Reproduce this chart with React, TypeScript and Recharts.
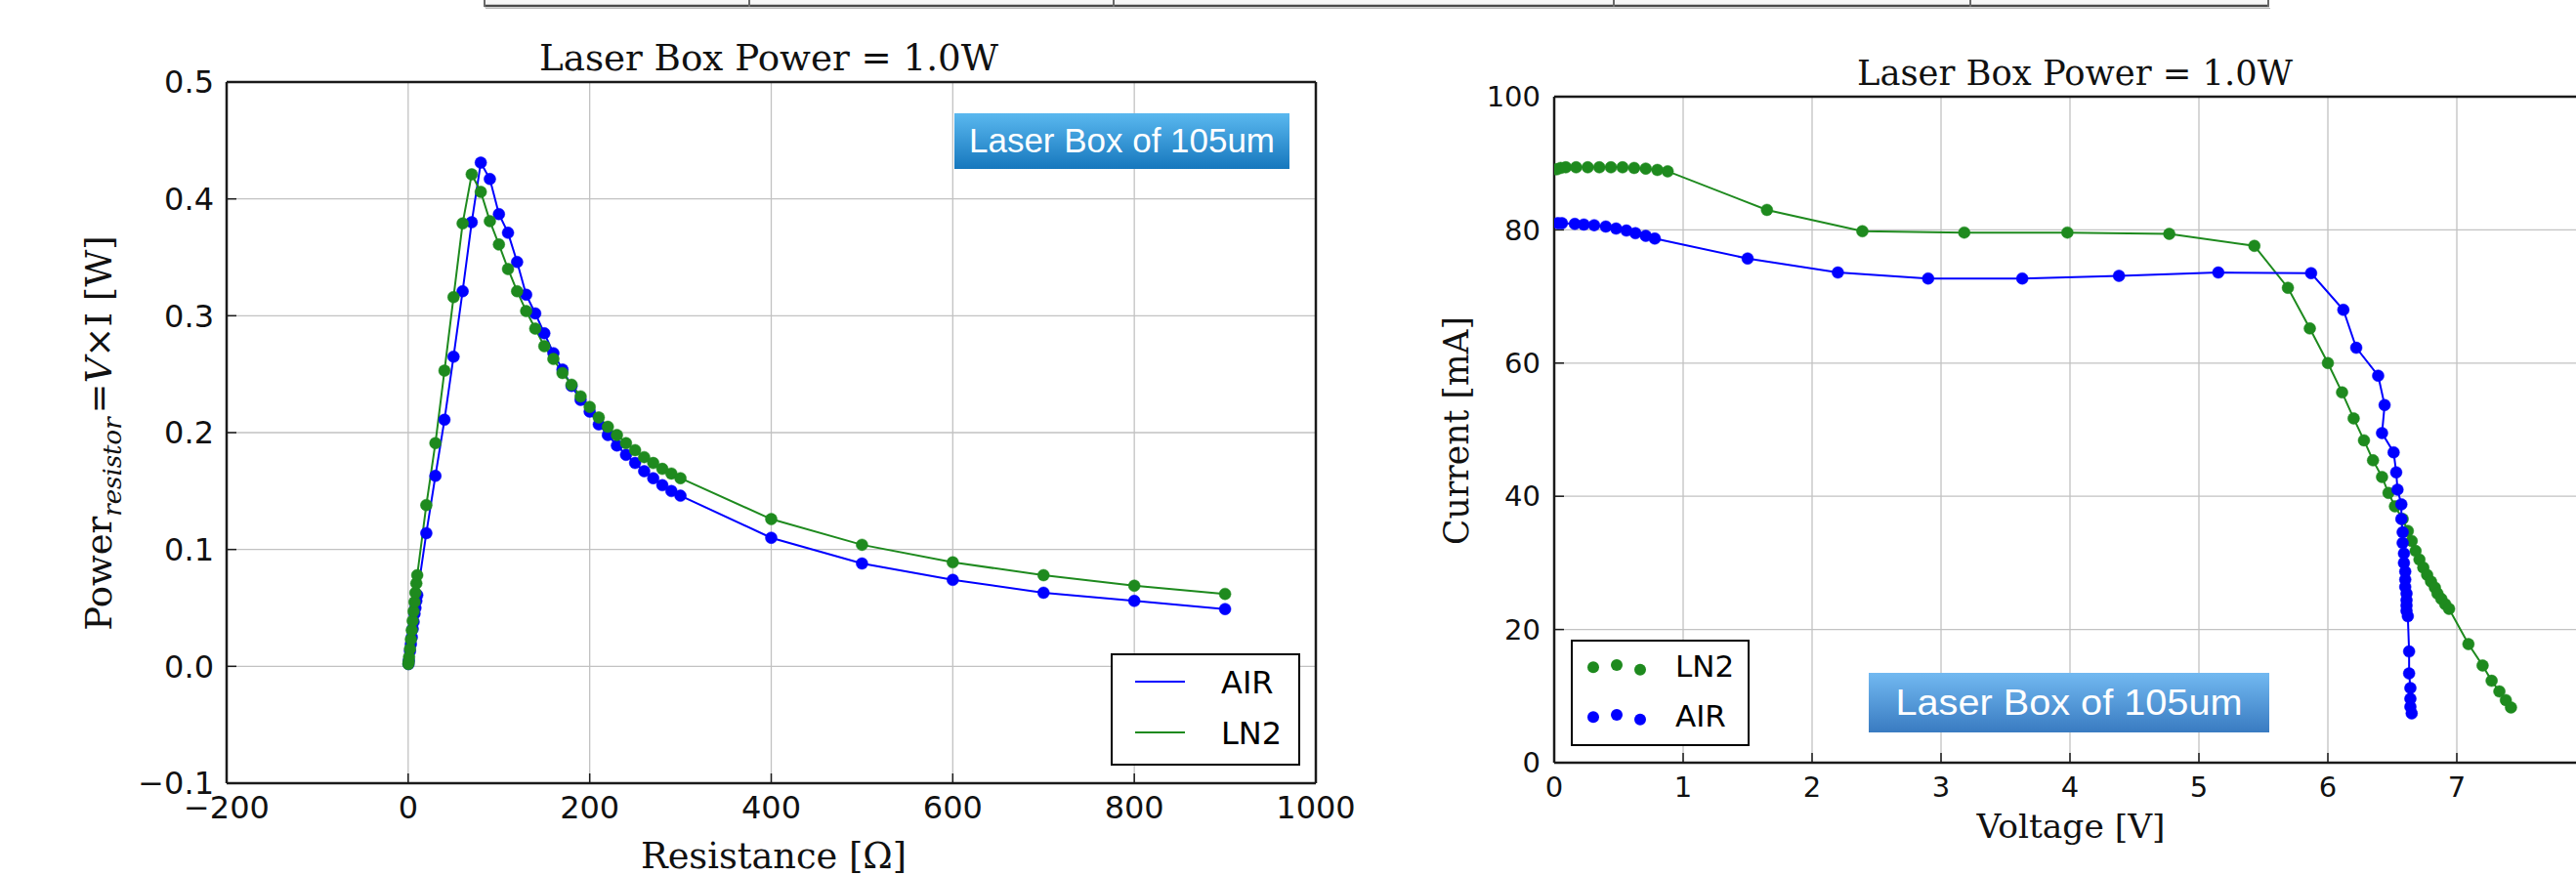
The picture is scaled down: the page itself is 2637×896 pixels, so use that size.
import React from 'react';
import { ComposedChart, Line, XAxis, YAxis, CartesianGrid, Legend } from 'recharts';

// ---------- data ----------
const airResistance = [0.4, 0.7, 2, 3, 4, 5, 6, 7, 8, 9, 10, 20, 30, 40, 50, 60, 70, 80, 90, 100, 110, 120, 130, 140, 150, 160, 170, 180, 190, 200, 210, 220, 230, 240, 250, 260, 270, 280, 290, 300, 400, 500, 600, 700, 800, 900];
const airPower = [0.002, 0.005, 0.013, 0.019, 0.025, 0.032, 0.038, 0.045, 0.05, 0.056, 0.061, 0.114, 0.163, 0.211, 0.265, 0.321, 0.38, 0.431, 0.417, 0.387, 0.371, 0.346, 0.318, 0.302, 0.285, 0.268, 0.254, 0.24, 0.228, 0.218, 0.207, 0.198, 0.189, 0.181, 0.174, 0.167, 0.161, 0.155, 0.15, 0.146, 0.11, 0.088, 0.074, 0.063, 0.056, 0.049];

const ln2Resistance = [0.2, 0.6, 1, 2, 3, 4, 5, 6, 7, 8, 9, 10, 20, 30, 40, 50, 60, 70, 80, 90, 100, 110, 120, 130, 140, 150, 160, 170, 180, 190, 200, 210, 220, 230, 240, 250, 260, 270, 280, 290, 300, 400, 500, 600, 700, 800, 900];
const ln2Power = [0.002, 0.004, 0.008, 0.015, 0.023, 0.031, 0.039, 0.047, 0.055, 0.063, 0.071, 0.078, 0.138, 0.191, 0.253, 0.316, 0.379, 0.421, 0.406, 0.381, 0.361, 0.34, 0.321, 0.304, 0.289, 0.274, 0.263, 0.251, 0.241, 0.231, 0.222, 0.213, 0.205, 0.198, 0.191, 0.185, 0.179, 0.174, 0.169, 0.165, 0.161, 0.126, 0.104, 0.089, 0.078, 0.069, 0.062];

const airVoltage = [0.03, 0.06, 0.16, 0.23, 0.31, 0.4, 0.48, 0.56, 0.63, 0.71, 0.78, 1.5, 2.2, 2.9, 3.63, 4.38, 5.15, 5.87, 6.12, 6.22, 6.39, 6.44, 6.42, 6.51, 6.53, 6.54, 6.57, 6.57, 6.58, 6.58, 6.59, 6.59, 6.6, 6.6, 6.6, 6.61, 6.61, 6.61, 6.61, 6.62, 6.63, 6.63, 6.64, 6.64, 6.64, 6.65];
const airCurrent = [81.0, 81.0, 80.9, 80.8, 80.7, 80.5, 80.2, 79.9, 79.5, 79.1, 78.7, 75.7, 73.6, 72.7, 72.7, 73.1, 73.6, 73.5, 68.0, 62.3, 58.1, 53.7, 49.5, 46.6, 43.6, 41.0, 38.8, 36.6, 34.6, 33.0, 31.4, 30.0, 28.7, 27.5, 26.4, 25.4, 24.4, 23.6, 22.8, 22.0, 16.7, 13.4, 11.2, 9.6, 8.4, 7.4];

const ln2Voltage = [0.02, 0.05, 0.09, 0.17, 0.26, 0.35, 0.44, 0.53, 0.62, 0.71, 0.8, 0.88, 1.65, 2.39, 3.18, 3.98, 4.77, 5.43, 5.69, 5.86, 6.0, 6.11, 6.2, 6.28, 6.35, 6.42, 6.47, 6.52, 6.58, 6.62, 6.65, 6.68, 6.71, 6.74, 6.77, 6.8, 6.83, 6.85, 6.88, 6.91, 6.94, 7.09, 7.2, 7.27, 7.33, 7.38, 7.42];
const ln2Current = [89.1, 89.3, 89.4, 89.4, 89.4, 89.4, 89.4, 89.4, 89.3, 89.2, 89.0, 88.8, 83.0, 79.8, 79.6, 79.6, 79.4, 77.6, 71.3, 65.2, 60.0, 55.6, 51.7, 48.4, 45.4, 42.9, 40.5, 38.5, 36.6, 34.8, 33.3, 31.8, 30.5, 29.3, 28.2, 27.2, 26.3, 25.4, 24.6, 23.8, 23.1, 17.8, 14.6, 12.3, 10.7, 9.4, 8.3];

const resistanceTicks = [-200, 0, 200, 400, 600, 800, 1000];
const powerTicks = [-0.1, 0, 0.1, 0.2, 0.3, 0.4, 0.5];
const voltageTicks = [0, 1, 2, 3, 4, 5, 6, 7, 8];
const currentTicks = [0, 20, 40, 60, 80, 100];

const chartTitle = 'Laser Box Power = 1.0W';
const badgeText = 'Laser Box of 105um';
const airName = 'AIR';
const ln2Name = 'LN2';
const leftLegendOrder = [airName, ln2Name];
const rightLegendOrder = [ln2Name, airName];
const tableDividers = [496, 767, 1140, 1652, 2017, 2322];

// ---------- helpers ----------
const toPoints = (xs: number[], ys: number[]) => xs.map((x, i) => ({ x, y: ys[i] }));
const airPR = toPoints(airResistance, airPower);
const ln2PR = toPoints(ln2Resistance, ln2Power);
const airIV = toPoints(airVoltage, airCurrent);
const ln2IV = toPoints(ln2Voltage, ln2Current);

const BLUE = '#0000ff';
const GREEN = '#1e8a1e';
const GRID = '#c2c2c2';
const FRAME = '#1a1a1a';
const DOT_R = 6;

const fmtInt = (v: number) => (v < 0 ? '\u2212' + Math.abs(v) : String(v));
const fmtOne = (v: number) => (v < 0 ? '\u2212' : '') + Math.abs(v).toFixed(1);
// the last voltage tick falls outside the visible picture, so its label is not drawn
const fmtVolt = (v: number) => (v >= 8 ? '' : String(v));

const axisLine = { stroke: FRAME, strokeWidth: 2.5 };
const tickLine = { stroke: FRAME, strokeWidth: 1.5 };

const ordered = (payload: any[], order: string[]) =>
  order.map((n) => payload.find((p: any) => p.value === n)).filter(Boolean);

const LeftLegend = (props: any) => {
  const payload = ordered(props.payload || [], leftLegendOrder);
  return (
    <svg width={194} height={115} style={{ display: 'block' }}>
      <rect x={1} y={1} width={192} height={113} fill="#fff" stroke="#000" strokeWidth={2} />
      {payload.map((p: any, i: number) => {
        const cy = 29 + i * 52;
        return (
          <g key={String(p.value)}>
            <line x1={25} x2={76} y1={cy} y2={cy} stroke={p.color} strokeWidth={2} />
            <text x={113} y={cy + 12} fontFamily="DejaVu Sans" fontSize={32} fill="#000">
              {p.value}
            </text>
          </g>
        );
      })}
    </svg>
  );
};

const RightLegend = (props: any) => {
  const payload = ordered(props.payload || [], rightLegendOrder);
  const dx = [23, 47, 71];
  const dy = [0, -2.3, 2.4];
  return (
    <svg width={183} height={109} style={{ display: 'block' }}>
      <rect x={1} y={1} width={181} height={107} fill="#fff" stroke="#000" strokeWidth={2} />
      {payload.map((p: any, i: number) => {
        const cy = 28.3 + i * 51;
        return (
          <g key={String(p.value)}>
            {dx.map((x, k) => (
              <circle key={k} cx={x} cy={cy + dy[k]} r={6} fill={p.color} />
            ))}
            <text x={107} y={cy + 10} fontFamily="DejaVu Sans" fontSize={31} fill="#000">
              {p.value}
            </text>
          </g>
        );
      })}
    </svg>
  );
};

const serif = 'DejaVu Serif';

export default function App() {
  return (
    <div style={{ position: 'fixed', left: 0, top: 0, width: 2637, height: 896, overflow: 'hidden', background: '#fff' }}>
      {/* left chart: power vs resistance */}
      <div style={{ position: 'absolute', left: 0, top: 0 }}>
        <ComposedChart width={1400} height={896} margin={{ top: 74, right: 43, bottom: 54, left: 172 }}>
          <CartesianGrid stroke={GRID} strokeWidth={1.3} />
          <XAxis
            type="number"
            dataKey="x"
            domain={[-200, 1000]}
            ticks={resistanceTicks}
            interval={0}
            allowDataOverflow
            height={40}
            tickSize={-10}
            tickMargin={23}
            tickFormatter={fmtInt}
            tick={{ fill: '#111', fontSize: 32, fontFamily: 'DejaVu Sans' }}
            axisLine={axisLine}
            tickLine={tickLine}
          />
          <XAxis
            xAxisId="top"
            orientation="top"
            type="number"
            domain={[-200, 1000]}
            ticks={resistanceTicks}
            interval={0}
            allowDataOverflow
            height={10}
            tickSize={-10}
            tick={false}
            axisLine={axisLine}
            tickLine={tickLine}
          />
          <YAxis
            type="number"
            domain={[-0.1, 0.5]}
            ticks={powerTicks}
            interval={0}
            allowDataOverflow
            width={60}
            tickSize={-10}
            tickMargin={23}
            tickFormatter={fmtOne}
            tick={{ fill: '#111', fontSize: 32, fontFamily: 'DejaVu Sans' }}
            axisLine={axisLine}
            tickLine={tickLine}
          />
          <YAxis
            yAxisId="right"
            orientation="right"
            type="number"
            domain={[-0.1, 0.5]}
            ticks={powerTicks}
            interval={0}
            allowDataOverflow
            width={10}
            tickSize={-10}
            tick={false}
            axisLine={axisLine}
            tickLine={tickLine}
          />
          <Line data={airPR} dataKey="y" name={airName} type="linear" stroke={BLUE} strokeWidth={2}
            dot={{ r: DOT_R, fill: BLUE, stroke: BLUE, strokeWidth: 0.5 }} activeDot={false} isAnimationActive={false} />
          <Line data={ln2PR} dataKey="y" name={ln2Name} type="linear" stroke={GREEN} strokeWidth={2}
            dot={{ r: DOT_R, fill: GREEN, stroke: GREEN, strokeWidth: 0.5 }} activeDot={false} isAnimationActive={false} />
          <Legend layout="vertical" align="center" verticalAlign="middle"
            wrapperStyle={{ left: 1137, top: 669, width: 194, height: 115 }}
            content={(p: any) => <LeftLegend payload={p.payload} />} />
        </ComposedChart>
      </div>

      {/* right chart: current vs voltage */}
      <div style={{ position: 'absolute', left: 1400, top: 0 }}>
        <ComposedChart width={1300} height={896} margin={{ top: 89, right: 53, bottom: 75, left: 131 }}>
          <CartesianGrid stroke={GRID} strokeWidth={1.3} />
          <XAxis
            type="number"
            dataKey="x"
            domain={[0, 8]}
            ticks={voltageTicks}
            interval={0}
            allowDataOverflow
            height={40}
            tickSize={-10}
            tickMargin={24}
            tickFormatter={fmtVolt}
            tick={{ fill: '#111', fontSize: 29, fontFamily: 'DejaVu Sans' }}
            axisLine={axisLine}
            tickLine={tickLine}
          />
          <XAxis
            xAxisId="top"
            orientation="top"
            type="number"
            domain={[0, 8]}
            ticks={voltageTicks}
            interval={0}
            allowDataOverflow
            height={10}
            tickSize={-10}
            tick={false}
            axisLine={axisLine}
            tickLine={tickLine}
          />
          <YAxis
            type="number"
            domain={[0, 100]}
            ticks={currentTicks}
            interval={0}
            allowDataOverflow
            width={60}
            tickSize={-10}
            tickMargin={24}
            tick={{ fill: '#111', fontSize: 29, fontFamily: 'DejaVu Sans' }}
            axisLine={axisLine}
            tickLine={tickLine}
          />
          <Line data={ln2IV} dataKey="y" name={ln2Name} type="linear" stroke={GREEN} strokeWidth={2}
            dot={{ r: DOT_R, fill: GREEN, stroke: GREEN, strokeWidth: 0.5 }} activeDot={false} isAnimationActive={false} />
          <Line data={airIV} dataKey="y" name={airName} type="linear" stroke={BLUE} strokeWidth={2}
            dot={{ r: DOT_R, fill: BLUE, stroke: BLUE, strokeWidth: 0.5 }} activeDot={false} isAnimationActive={false} />
          <Legend layout="vertical" align="center" verticalAlign="middle"
            wrapperStyle={{ left: 208, top: 655, width: 183, height: 109 }}
            content={(p: any) => <RightLegend payload={p.payload} />} />
        </ComposedChart>
      </div>

      {/* titles, axis labels, badges, table fragment */}
      <svg width={2637} height={896} style={{ position: 'absolute', left: 0, top: 0, pointerEvents: 'none' }}>
        <defs>
          <linearGradient id="badgeL" x1="0" y1="0" x2="0" y2="1">
            <stop offset="0" stopColor="#5ab8ef" />
            <stop offset="1" stopColor="#1677bd" />
          </linearGradient>
          <linearGradient id="badgeR" x1="0" y1="0" x2="0" y2="1">
            <stop offset="0" stopColor="#72b9f1" />
            <stop offset="1" stopColor="#397bc1" />
          </linearGradient>
        </defs>

        {/* table fragment at the top */}
        <rect x={496} y={0} width={1826} height={6} fill="#f7f7f7" />
        <line x1={496} x2={2323} y1={6} y2={6} stroke="#4a4a4a" strokeWidth={2.5} />
        <line x1={497} x2={2324} y1={8.5} y2={8.5} stroke="#b5b5b5" strokeWidth={1} />
        {tableDividers.map((x) => (
          <line key={x} x1={x} x2={x} y1={0} y2={7} stroke="#6a6a6a" strokeWidth={2} />
        ))}

        {/* left chart text */}
        <text x={787} y={72} textAnchor="middle" fontFamily={serif} fontSize={37} fill="#111"
          textLength={470} lengthAdjust="spacingAndGlyphs">{chartTitle}</text>
        <text x={792} y={889} textAnchor="middle" fontFamily={serif} fontSize={37} fill="#111"
          textLength={272} lengthAdjust="spacingAndGlyphs">Resistance [Ω]</text>
        <text transform="translate(114 443.5) rotate(-90)" textAnchor="middle" fontFamily={serif} fontSize={37} fill="#111">
          <tspan>Power</tspan>
          <tspan fontStyle="italic" fontSize={26} dy={10}>resistor</tspan>
          <tspan dy={-10} dx={4}>=</tspan>
          <tspan fontStyle="italic">V</tspan>
          <tspan>×I [W]</tspan>
        </text>
        <rect x={977} y={116} width={343} height={57} fill="url(#badgeL)" />
        <text x={1148.5} y={156} textAnchor="middle" fontFamily="Liberation Sans" fontSize={35} fill="#fff"
          textLength={313} lengthAdjust="spacingAndGlyphs">{badgeText}</text>

        {/* right chart text */}
        <text x={2124} y={87} textAnchor="middle" fontFamily={serif} fontSize={35} fill="#111"
          textLength={446} lengthAdjust="spacingAndGlyphs">{chartTitle}</text>
        <text x={2120} y={858} textAnchor="middle" fontFamily={serif} fontSize={34} fill="#111"
          textLength={193} lengthAdjust="spacingAndGlyphs">Voltage [V]</text>
        <text transform="translate(1503 441) rotate(-90)" textAnchor="middle" fontFamily={serif} fontSize={35} fill="#111"
          textLength={234} lengthAdjust="spacingAndGlyphs">Current [mA]</text>
        <rect x={1913} y={689} width={410} height={61} fill="url(#badgeR)" />
        <text x={2118} y={732} textAnchor="middle" fontFamily="Liberation Sans" fontSize={36} fill="#fff"
          textLength={355} lengthAdjust="spacingAndGlyphs">{badgeText}</text>
      </svg>
    </div>
  );
}
